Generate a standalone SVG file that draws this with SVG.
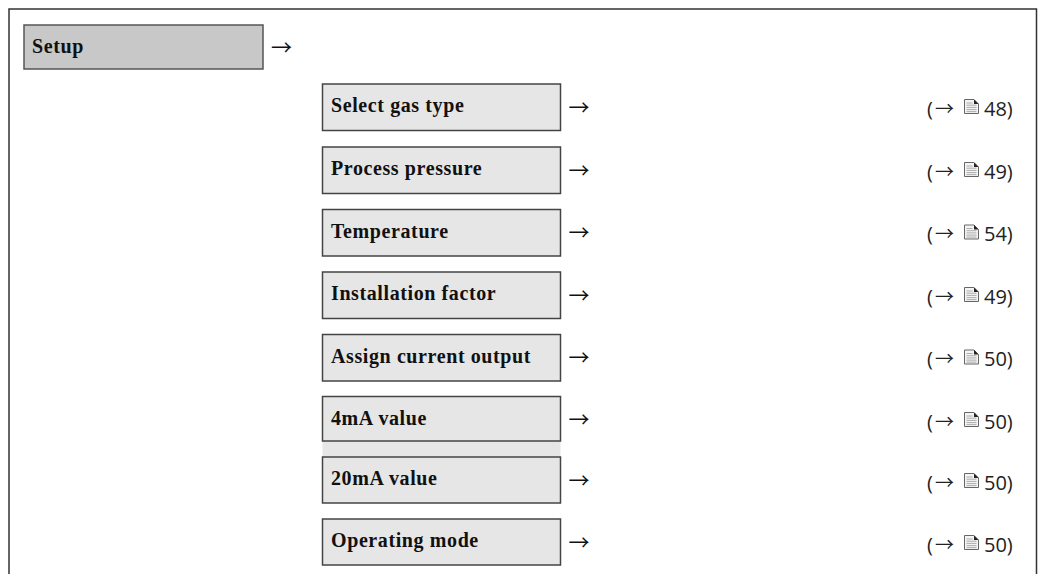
<svg xmlns="http://www.w3.org/2000/svg" width="1038" height="574" viewBox="0 0 1038 574">
<style>
.frame{stroke:#333;stroke-width:1.5;fill:none}
.main{fill:#c8c8c8;stroke:#555;stroke-width:1.5}
.sub{fill:#e6e6e6;stroke:#444;stroke-width:1.5}
.lbl{font-family:"Liberation Serif",serif;font-weight:bold;font-size:20px;fill:#111;letter-spacing:0.6px}
.arr{font-family:"Noto Sans CJK SC",sans-serif;font-size:21px;fill:#111}
.ref{font-family:"Open Sans","Noto Sans",sans-serif;font-size:20px;fill:#222}
.ra{font-family:"Noto Sans CJK SC",sans-serif;font-size:19px}
</style>
<defs>
<g id="page">
<path d="M0.5,0.5 H10 L14.5,5 V14.5 H0.5 Z" fill="#f4f4f4" stroke="#666" stroke-width="1"/>
<path d="M10,0.5 V5 H14.5 Z" fill="#222"/>
<path d="M2.5,4 H8.5 M2.5,6.2 H12.5 M2.5,8.4 H12.5 M2.5,10.6 H12.5 M2.5,12.6 H12.5" stroke="#999" stroke-width="0.8"/>
</g>
</defs>
<rect width="1038" height="574" fill="#fff"/>
<g id="frame">
<path class="frame" d="M9,574 V9 H1036.5 V574"/>
</g>
<g id="setup">
<rect class="main" x="24" y="25" width="239" height="44"/>
<text class="lbl" x="32" y="53">Setup</text>
</g>
<g id="n1"><rect class="sub" x="322.5" y="84" width="238" height="46.5"/><text class="lbl" x="331" y="112">Select gas type</text></g>
<g id="n2"><rect class="sub" x="322.5" y="147" width="238" height="46.5"/><text class="lbl" x="331" y="175">Process pressure</text></g>
<g id="n3"><rect class="sub" x="322.5" y="209.5" width="238" height="46.5"/><text class="lbl" x="331" y="237.5">Temperature</text></g>
<g id="n4"><rect class="sub" x="322.5" y="272" width="238" height="46.5"/><text class="lbl" x="331" y="300">Installation factor</text></g>
<g id="n5"><rect class="sub" x="322.5" y="334.5" width="238" height="46.5"/><text class="lbl" x="331" y="362.5">Assign current output</text></g>
<g id="n6"><rect x="322.5" y="441" width="238" height="16" fill="#e6e6e6"/><rect class="sub" x="322.5" y="396.5" width="238" height="44.5"/><text class="lbl" x="331" y="424.5">4mA value</text></g>
<g id="n7"><rect class="sub" x="322.5" y="457" width="238" height="46"/><text class="lbl" x="331" y="485">20mA value</text></g>
<g id="n8"><rect class="sub" x="322.5" y="519" width="238" height="46"/><text class="lbl" x="331" y="547">Operating mode</text></g>
<g id="connectors">
<text class="arr" x="271" y="55">→</text>
<text class="arr" x="568.5" y="115">→</text>
<text class="arr" x="568.5" y="177.5">→</text>
<text class="arr" x="568.5" y="240">→</text>
<text class="arr" x="568.5" y="302.5">→</text>
<text class="arr" x="568.5" y="365">→</text>
<text class="arr" x="568.5" y="427">→</text>
<text class="arr" x="568.5" y="487.5">→</text>
<text class="arr" x="568.5" y="549.5">→</text>
</g>
<g id="refs">
<text class="ref" x="927" y="115.5">(<tspan class="ra" x="935">→</tspan></text><use href="#page" x="964" y="99"/><text class="ref" x="984" y="115.5">48)</text>
<text class="ref" x="927" y="178.5">(<tspan class="ra" x="935">→</tspan></text><use href="#page" x="964" y="162"/><text class="ref" x="984" y="178.5">49)</text>
<text class="ref" x="927" y="241">(<tspan class="ra" x="935">→</tspan></text><use href="#page" x="964" y="224.5"/><text class="ref" x="984" y="241">54)</text>
<text class="ref" x="927" y="303.5">(<tspan class="ra" x="935">→</tspan></text><use href="#page" x="964" y="287"/><text class="ref" x="984" y="303.5">49)</text>
<text class="ref" x="927" y="366">(<tspan class="ra" x="935">→</tspan></text><use href="#page" x="964" y="349.5"/><text class="ref" x="984" y="366">50)</text>
<text class="ref" x="927" y="428.5">(<tspan class="ra" x="935">→</tspan></text><use href="#page" x="964" y="412"/><text class="ref" x="984" y="428.5">50)</text>
<text class="ref" x="927" y="489.5">(<tspan class="ra" x="935">→</tspan></text><use href="#page" x="964" y="473"/><text class="ref" x="984" y="489.5">50)</text>
<text class="ref" x="927" y="551.5">(<tspan class="ra" x="935">→</tspan></text><use href="#page" x="964" y="535"/><text class="ref" x="984" y="551.5">50)</text>
</g>
</svg>
